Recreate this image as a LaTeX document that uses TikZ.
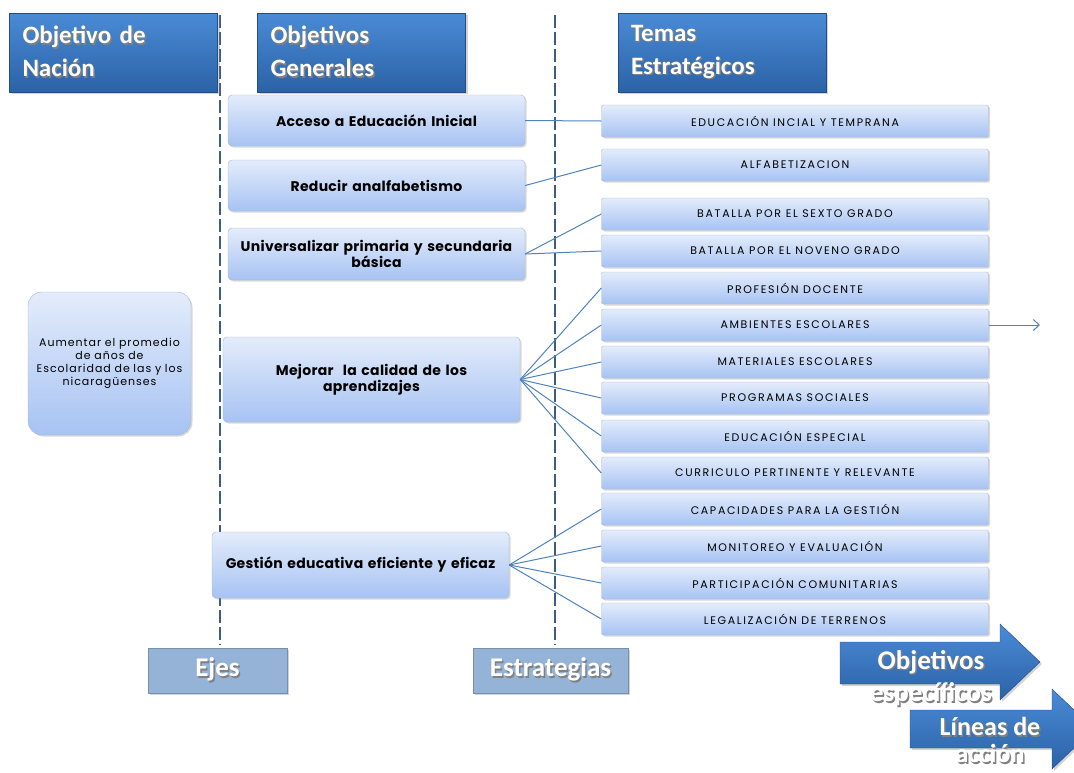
\documentclass[tikz,border=0pt]{standalone}
\usepackage{fontspec}
\setmainfont{Poppins}
\newfontfamily\calib{Carlito}
\newfontfamily\capsfont[LetterSpace=15]{Poppins}
\newfontfamily\smallfont[LetterSpace=9]{Poppins}
\newfontfamily\midfont[LetterSpace=2]{Poppins}
\usetikzlibrary{shadows,arrows.meta}
\definecolor{hdtop}{HTML}{4A8BD6}
\definecolor{hdbot}{HTML}{2B62A6}
\definecolor{lbtop}{HTML}{E3ECFB}
\definecolor{lbbot}{HTML}{A7C3F3}
\definecolor{lbdraw}{HTML}{A9B8CC}
\definecolor{conn}{HTML}{4F81BD}
\definecolor{dashc}{HTML}{3E5C80}
\definecolor{btbox}{HTML}{95B3D7}
\newcommand\shtxt[1]{\makebox[0pt][l]{\kern1.5pt\raisebox{-1.5pt}{\color{black!50}#1}}#1}
\tikzset{
  hdbox/.style={draw=hdbot!80!black, top color=hdtop, bottom color=hdbot,
    minimum width=208pt, minimum height=79pt, inner sep=0pt,
    drop shadow={opacity=0.35,shadow xshift=2pt,shadow yshift=-2pt},
    text=white, font=\calib\bfseries\fontsize{25}{33}\selectfont,
    align=left, text width=182pt},
  btm/.style={draw=btbox!80!black, fill=btbox, minimum height=45pt, inner sep=0pt,
    drop shadow={opacity=0.35,shadow xshift=2pt,shadow yshift=-2pt},
    text=white, font=\calib\bfseries\fontsize{27}{30}\selectfont},
  lbox/.style={draw=lbdraw, top color=lbtop, bottom color=lbbot, rounded corners=4pt,
    drop shadow={opacity=0.3,shadow xshift=1.5pt,shadow yshift=-1.5pt}, align=center, inner sep=0pt},
  midbox/.style={lbox, minimum width=297pt, font=\midfont\bfseries\fontsize{14}{16}\selectfont, text width=290pt},
  rbox/.style={lbox, rounded corners=2pt, minimum width=387pt, minimum height=32pt,
    font=\capsfont\fontsize{11}{12}\selectfont},
  conline/.style={draw=conn, line width=1pt},
  dashl/.style={draw=dashc, line width=1.6pt, dash pattern=on 13pt off 4pt},
  bigarrow/.style={top color=hdtop, bottom color=hdbot, draw=hdbot!80!black,
    drop shadow={opacity=0.35,shadow xshift=2pt,shadow yshift=-2pt}},
  arrtxt/.style={text=white, font=\calib\bfseries\fontsize{27}{30}\selectfont, inner sep=0pt}
}
\begin{document}
\begin{tikzpicture}[x=1pt,y=-1pt]
\useasboundingbox (0,0) rectangle (1074,772);
\clip (0,0) rectangle (1074,772);
% dashed separators
\coordinate (d1t) at (220,15);
\coordinate (d1b) at (220,645);
\coordinate (d2t) at (555,15);
\coordinate (d2b) at (555,645);
\draw[dashl] (d1t) -- (d1b);
\draw[dashl] (d2t) -- (d2b);
% headers
\node[hdbox] (h1) at (113.5,52.5) {\shtxt{Objetivo de}\\\shtxt{Nación}};
\node[hdbox] (h2) at (361.5,52.5) {\shtxt{Objetivos}\\\shtxt{Generales}};
\node[hdbox] (h3) at (722,52.5) {\shtxt{Temas}\\\shtxt{Estratégicos}};
% left box
\node[lbox, rounded corners=14pt, minimum width=163pt, minimum height=143pt,
  text width=162pt, font=\smallfont\fontsize{11}{13}\selectfont] (nac) at (109.5,363.5)
  {Aumentar el promedio\\de años de\\Escolaridad de las y los\\nicaragüenses};
% middle boxes
\node[midbox, minimum height=51pt] (acc) at (376.5,120.5) {Acceso a Educación Inicial};
\node[midbox, minimum height=51pt] (red) at (376.5,185.5) {Reducir analfabetismo};
\node[midbox, minimum height=52pt] (uni) at (376.5,254) {Universalizar primaria y secundaria\\básica};
\node[midbox, minimum height=85pt] (mej) at (371.5,379.5) {Mejorar\ \ la calidad de los\\aprendizajes};
\node[midbox, minimum height=66pt] (ges) at (360.5,565) {Gestión educativa eficiente y eficaz};
% right boxes
\node[rbox] (r1) at (795,121) {EDUCACIÓN INCIAL Y TEMPRANA};
\node[rbox] (r2) at (795,165) {ALFABETIZACION};
\node[rbox] (r3) at (795,214) {BATALLA POR EL SEXTO GRADO};
\node[rbox] (r4) at (795,251) {BATALLA POR EL NOVENO GRADO};
\node[rbox] (r5) at (795,288) {PROFESIÓN DOCENTE};
\node[rbox] (r6) at (795,325) {AMBIENTES ESCOLARES};
\node[rbox] (r7) at (795,362) {MATERIALES ESCOLARES};
\node[rbox] (r8) at (795,398) {PROGRAMAS SOCIALES};
\node[rbox] (r9) at (795,436) {EDUCACIÓN ESPECIAL};
\node[rbox] (r10) at (795,473) {CURRICULO PERTINENTE Y RELEVANTE};
\node[rbox] (r11) at (795,509) {CAPACIDADES PARA LA GESTIÓN};
\node[rbox] (r12) at (795,546) {MONITOREO Y EVALUACIÓN};
\node[rbox] (r13) at (795,583) {PARTICIPACIÓN COMUNITARIAS};
\node[rbox] (r14) at (795,619) {LEGALIZACIÓN DE TERRENOS};
% connectors
\draw[conline] (acc.east) -- (r1.west);
\draw[conline] (red.east) -- (r2.west);
\foreach \r in {r3,r4} \draw[conline] (uni.east) -- (\r.west);
\foreach \r in {r5,r6,r7,r8,r9,r10} \draw[conline] (mej.east) -- (\r.west);
\foreach \r in {r11,r12,r13,r14} \draw[conline] (ges.east) -- (\r.west);
\coordinate (aend) at (1040,325);
\draw[conline, -{Straight Barb[length=6pt,width=11pt]}] (r6.east) -- (aend);
% bottom labels
\node[btm, minimum width=139pt] (ejes) at (217.5,670.5) {\shtxt{Ejes}};
\node[btm, minimum width=155pt] (estr) at (550.5,670.5) {\shtxt{Estrategias}};
% big arrows
\path[bigarrow] (840,642) -- (1000,642) -- (1000,624) -- (1040,662) -- (1000,700) -- (1000,684) -- (840,684) -- cycle;
\path[bigarrow] (910,710) -- (1052,710) -- (1052,689) -- (1094,729) -- (1052,769) -- (1052,748) -- (910,748) -- cycle;
\node[arrtxt] (o1) at (931,663) {\shtxt{Objetivos}};
\node[arrtxt] (o2) at (931,695) {\shtxt{específicos}};
\node[arrtxt, align=center, font=\calib\bfseries\fontsize{26}{27}\selectfont] (l1) at (990,741) {\shtxt{Líneas de}\\\shtxt{acción}};
\end{tikzpicture}
\end{document}
